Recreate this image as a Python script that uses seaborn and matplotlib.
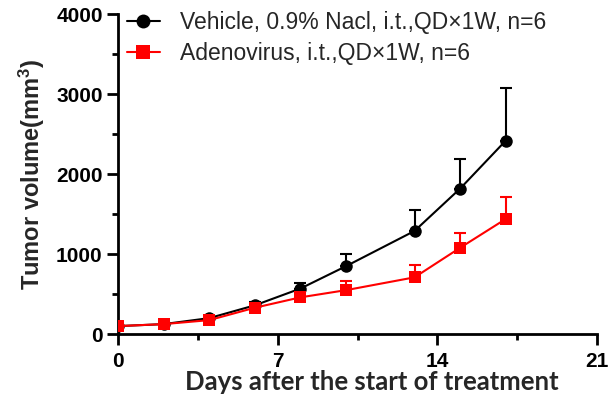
import matplotlib
matplotlib.use("Agg")
import matplotlib.pyplot as plt
import seaborn as sns
import pandas as pd
import numpy as np
from matplotlib.ticker import MultipleLocator

days = [0, 2, 4, 6, 8, 10, 13, 15, 17]
vehicle_mean = [100, 125, 200, 360, 570, 850, 1290, 1820, 2420]
vehicle_sem = [10, 15, 25, 40, 70, 150, 260, 370, 660]
adeno_mean = [100, 125, 175, 330, 460, 550, 710, 1080, 1440]
adeno_sem = [10, 12, 20, 30, 50, 110, 150, 190, 270]
labels = ["Vehicle, 0.9% Nacl, i.t.,QD×1W, n=6", "Adenovirus, i.t.,QD×1W, n=6"]
colors = ["#000000", "#ff0000"]
markers = ["o", "s"]

df = pd.concat([
    pd.DataFrame({"day": days, "vol": vehicle_mean, "sem": vehicle_sem, "group": labels[0]}),
    pd.DataFrame({"day": days, "vol": adeno_mean, "sem": adeno_sem, "group": labels[1]}),
])

sns.set_style("ticks")
plt.rcParams["font.family"] = ["Liberation Sans", "DejaVu Sans"]
plt.rcParams["mathtext.default"] = "regular"

fig = plt.figure(figsize=(6.08, 4.05), dpi=100)
ax = fig.add_axes([0.194, 0.175, 0.788, 0.79])

for lab, c, m in zip(labels, colors, markers):
    sub = df[df.group == lab]
    ax.errorbar(sub.day, sub.vol, yerr=[np.zeros(len(sub)), sub["sem"]], fmt="none",
                ecolor=c, elinewidth=1.5, capsize=4, capthick=1.5, zorder=2)

sns.lineplot(data=df, x="day", y="vol", hue="group", style="group",
             palette=colors, markers=markers, dashes=False, markersize=9,
             markeredgewidth=0, linewidth=1.5, ax=ax, zorder=3)

ax.set_xlim(0, 21)
ax.set_ylim(0, 4000)
ax.xaxis.set_major_locator(MultipleLocator(7))
ax.xaxis.set_minor_locator(MultipleLocator(3.5))
ax.yaxis.set_major_locator(MultipleLocator(1000))
ax.yaxis.set_minor_locator(MultipleLocator(500))
for s in ["top", "right"]:
    ax.spines[s].set_visible(False)
for s in ["left", "bottom"]:
    ax.spines[s].set_linewidth(2)
    ax.spines[s].set_color("black")
ax.tick_params(which="major", length=8, width=2, colors="black", labelsize=15)
ax.tick_params(which="minor", length=4, width=2, colors="black")
for t in ax.get_xticklabels() + ax.get_yticklabels():
    t.set_fontweight("bold")
ax.tick_params(axis="x", pad=5)
ax.tick_params(axis="y", pad=3)

ax.set_xlabel("Days after the start of treatment", fontsize=18.5, fontweight="bold",
              family=["Lato", "DejaVu Sans"])
ax.xaxis.set_label_coords(0.53, -0.112)
ax.set_ylabel("Tumor volume(mm$^{3}$)", fontsize=17, fontweight="bold",
              family=["Liberation Sans", "DejaVu Sans"])
ax.yaxis.set_label_coords(-0.148, 0.5)

leg = ax.legend(title=None, loc="upper left", bbox_to_anchor=(-0.015, 1.06), frameon=False,
                fontsize=16.5, handlelength=1.45, handletextpad=0.85, labelspacing=0.35,
                borderaxespad=0.3)
for h in leg.legend_handles:
    h.set_markersize(10)

fig.savefig("out.png", dpi=100)
